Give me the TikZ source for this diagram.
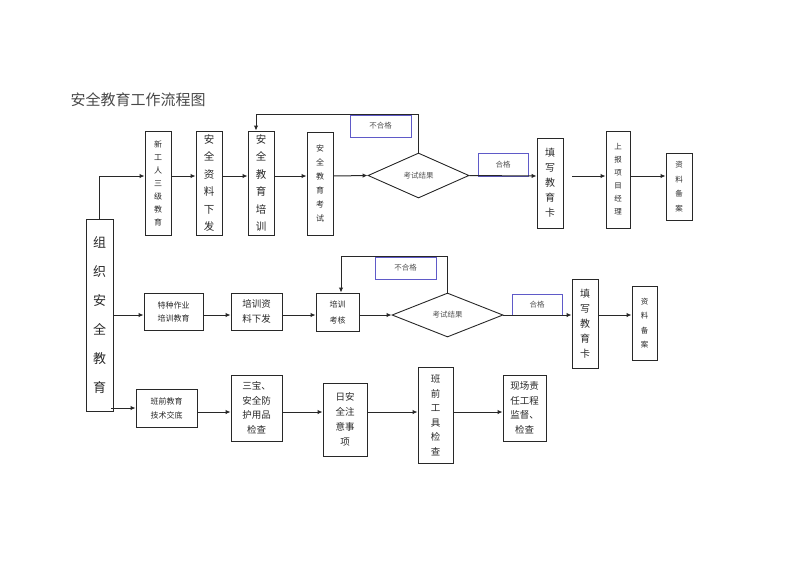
\documentclass[tikz,border=0pt]{standalone}
\usepackage{fontspec}
\setmainfont{Noto Sans CJK SC}
\usetikzlibrary{arrows.meta,shapes.geometric}
\definecolor{okblue}{RGB}{95,90,200}
\definecolor{ink}{RGB}{40,40,40}
\begin{document}
\begin{tikzpicture}[x=1pt,y=-1pt,
  box/.style={draw=ink, line width=0.9pt, rectangle, inner sep=0pt, align=center, text=ink},
  tag/.style={draw=okblue, line width=0.8pt, rectangle, inner sep=0pt, text=ink!80, font=\fontsize{7.5}{9}\selectfont},
  test/.style={draw=ink, line width=0.9pt, diamond, inner sep=0pt, text=ink!80, font=\fontsize{7.5}{9}\selectfont},
  arr/.style={-{Latex[length=5pt,width=4.5pt]}, line width=1pt, draw=ink}]
\useasboundingbox (0,0) rectangle (800,566);
\node[anchor=west, text=ink!85, font=\fontsize{15}{16}\selectfont] (title) at (67,100) {安全教育工作流程图};
% rows
\coordinate (row1) at (0,176);
\coordinate (row2) at (0,315);
\coordinate (row3) at (0,412);
% left box
\node[box, minimum width=27, minimum height=192, font=\fontsize{13}{29}\selectfont] (org) at (99.5,315) {组\\织\\安\\全\\教\\育};
% first row
\node[box, minimum width=26, minimum height=104, font=\fontsize{8}{13}\selectfont] (new) at (158,183) {新\\工\\人\\三\\级\\教\\育};
\node[box, minimum width=26, minimum height=104, font=\fontsize{10.5}{17.5}\selectfont] (doc) at (209,183) {安\\全\\资\\料\\下\\发};
\node[box, minimum width=26, minimum height=104, font=\fontsize{10.5}{17.5}\selectfont] (train) at (261,183) {安\\全\\教\\育\\培\\训};
\node[box, minimum width=26, minimum height=103, font=\fontsize{8}{14}\selectfont] (exam) at (320,183.5) {安\\全\\教\\育\\考\\试};
\node[test, minimum width=101, minimum height=45] (res) at (418.5,175.5) {考试结果};
\node[tag, minimum width=61, minimum height=22] (fail) at (380.5,126) {不合格};
\node[tag, minimum width=50, minimum height=23] (pass) at (503,164.5) {合格};
\node[box, minimum width=26, minimum height=90, font=\fontsize{10}{15}\selectfont] (card) at (550,183) {填\\写\\教\\育\\卡};
\node[box, minimum width=24, minimum height=97, font=\fontsize{7.5}{13}\selectfont] (boss) at (618,179.5) {上\\报\\项\\目\\经\\理};
\node[box, minimum width=26, minimum height=67, font=\fontsize{7.5}{14.5}\selectfont] (file) at (679,186.5) {资\\料\\备\\案};
\draw[arr] (org.north) |- (new.west |- row1);
\draw[arr] (new.east |- row1) -- (doc.west |- row1);
\draw[arr] (doc.east |- row1) -- (train.west |- row1);
\draw[arr] (train.east |- row1) -- (exam.west |- row1);
\draw[arr] (exam.east |- row1) -- (res.west);
\draw[arr] (res.east) -- (card.west |- row1);
\draw[arr] ([xshift=9pt]card.east |- row1) -- (boss.west |- row1);
\draw[arr] (boss.east |- row1) -- (file.west |- row1);
\draw[arr] (res.north) |- (fail.north) -| ([xshift=-5pt]train.north);
% second row
\node[box, minimum width=59, minimum height=37, font=\fontsize{8}{13}\selectfont] (spec) at (173.5,311.5) {特种作业\\培训教育};
\node[box, minimum width=51, minimum height=37, font=\fontsize{9.5}{15}\selectfont] (doc2) at (256.5,311.5) {培训资\\料下发};
\node[box, minimum width=43, minimum height=38, font=\fontsize{8}{16}\selectfont] (check) at (337.5,312) {培训\\考核};
\node[test, minimum width=111, minimum height=44] (res2) at (447.5,315) {考试结果};
\node[tag, minimum width=61, minimum height=22] (fail2) at (405.5,268) {不合格};
\node[tag, minimum width=50, minimum height=21] (pass2) at (537,304.5) {合格};
\node[box, minimum width=26, minimum height=89, font=\fontsize{10}{15}\selectfont] (card2) at (585,323.5) {填\\写\\教\\育\\卡};
\node[box, minimum width=25, minimum height=74, font=\fontsize{7.5}{14.5}\selectfont] (file2) at (644.5,323) {资\\料\\备\\案};
\draw[arr] (org.east |- row2) -- (spec.west |- row2);
\draw[arr] (spec.east |- row2) -- (doc2.west |- row2);
\draw[arr] (doc2.east |- row2) -- (check.west |- row2);
\draw[arr] (check.east |- row2) -- (res2.west);
\draw[arr] (res2.east) -- (card2.west |- row2);
\draw[arr] (card2.east |- row2) -- (file2.west |- row2);
\draw[arr] (res2.north) |- (fail2.north) -| ([xshift=3.5pt]check.north);
% third row
\node[box, minimum width=61, minimum height=38, font=\fontsize{8}{14}\selectfont] (team) at (166.5,408) {班前教育\\技术交底};
\node[box, minimum width=51, minimum height=66, font=\fontsize{9.5}{14.5}\selectfont] (gear) at (256.5,408) {三宝、\\安全防\\护用品\\检查};
\node[box, minimum width=44, minimum height=73, font=\fontsize{9.5}{15}\selectfont] (daily) at (345,419.5) {日安\\全注\\意事\\项};
\node[box, minimum width=35, minimum height=96, font=\fontsize{9.5}{14.5}\selectfont] (tool) at (435.5,415) {班\\前\\工\\具\\检\\查};
\node[box, minimum width=43, minimum height=66, font=\fontsize{9.5}{14.5}\selectfont] (site) at (524.5,408) {现场责\\任工程\\监督、\\检查};
\draw[arr] ([xshift=-2pt]org.east |- team.west) -- (team.west);
\draw[arr] (team.east |- row3) -- (gear.west |- row3);
\draw[arr] (gear.east |- row3) -- (daily.west |- row3);
\draw[arr] (daily.east |- row3) -- (tool.west |- row3);
\draw[arr] (tool.east |- row3) -- (site.west |- row3);
\end{tikzpicture}
\end{document}
